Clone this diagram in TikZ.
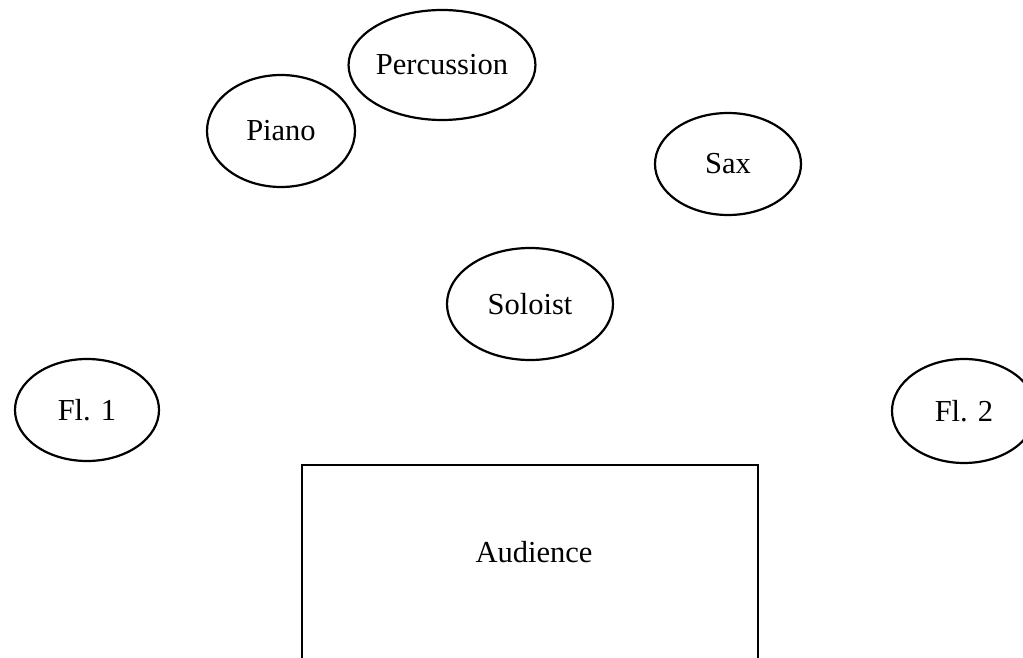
\documentclass[tikz,border=0pt]{standalone}
\usepackage{fontspec}
\setmainfont{Liberation Serif}
\usetikzlibrary{shapes.geometric}
\begin{document}
\begin{tikzpicture}[x=0.5pt,y=-0.5pt,
  player/.style={draw, line width=1.1pt, ellipse, inner sep=0pt,
    font=\fontsize{15.25}{18}\selectfont},
  lbl/.style={font=\fontsize{15.25}{18}\selectfont}]
\useasboundingbox (0,0) rectangle (1023,658);
\clip (0,0) rectangle (1023,658);
% performers on stage
\node[player, minimum width=93pt, minimum height=55pt] (perc) at (442,65) {Percussion};
\node[player, minimum width=74pt, minimum height=56pt] (piano) at (281,131) {Piano};
\node[player, minimum width=73pt, minimum height=51pt] (sax) at (728,164) {Sax};
\node[player, minimum width=83pt, minimum height=56pt] (solo) at (530,304) {Soloist};
\node[player, minimum width=72pt, minimum height=51pt] (fl1) at (87,410) {Fl. 1};
\node[player, minimum width=72pt, minimum height=52pt] (fl2) at (964,411) {Fl. 2};
% seating area, running off the bottom edge
\draw[line width=1.1pt] (302,700) -- (302,465) -- (758,465) -- (758,700);
\node[lbl] (aud) at (534,552) {Audience};
\end{tikzpicture}
\end{document}
